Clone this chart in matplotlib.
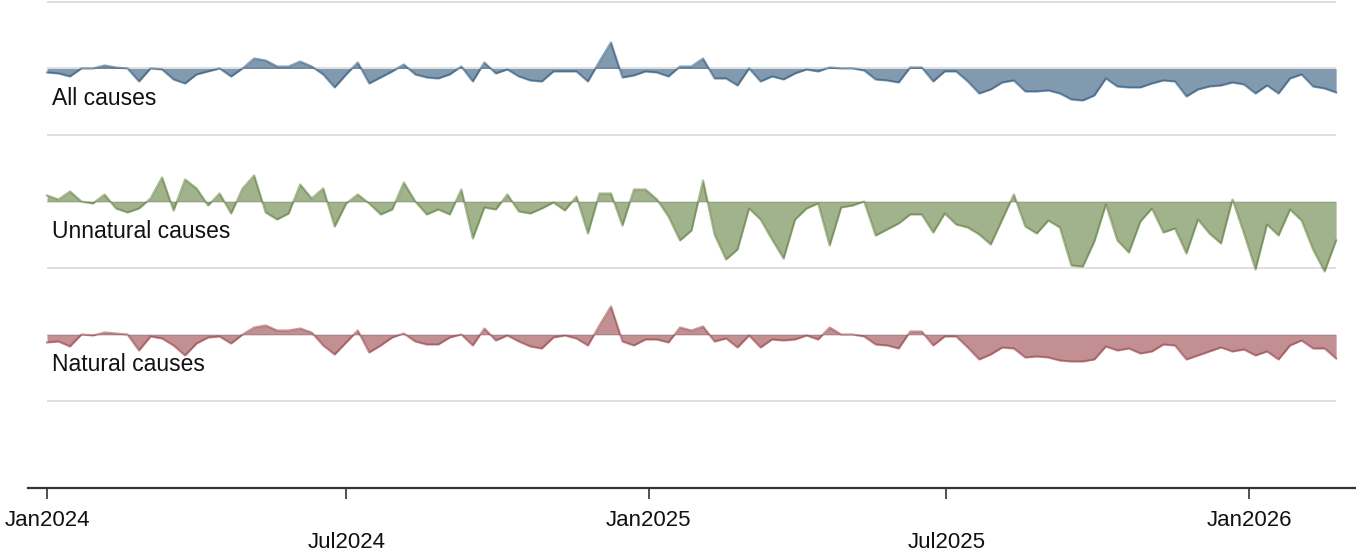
import numpy as np
import pandas as pd
import matplotlib
matplotlib.use('Agg')
import matplotlib.pyplot as plt
import matplotlib.dates as mdates

plt.rcParams['font.family'] = ['Liberation Sans', 'DejaVu Sans']

# weekly deviations from expected (1 band = 133 units)
weeks = pd.date_range('2024-01-01', periods=113, freq='7D')

all_causes = [-4, -5, -8, 0, 0, 3, 1, 0, -13, 0,
              -1, -11, -15, -6, -3, 0, -8, 0, 10, 8,
              2, 2, 7, 2, -6, -19, -6, 6, -15, -9,
              -3, 4, -6, -9, -10, -6, 2, -13, 6, -5,
              -1, -8, -12, -13, -3, -3, -3, -13, 7, 26,
              -9, -7, -3, -4, -8, 2, 2, 10, -10, -10,
              -17, 0, -13, -8, -11, -5, -1, -3, 1, 0,
              0, -2, -11, -12, -14, 1, 1, -13, -3, -3,
              -13, -25, -21, -14, -12, -23, -23, -22, -25, -31,
              -32, -27, -10, -18, -19, -19, -15, -12, -13, -28,
              -21, -18, -17, -14, -16, -25, -17, -25, -10, -6,
              -18, -20, -24]

unnatural = [6, 2, 10, 0, -2, 7, -7, -11, -7, 3,
             24, -9, 22, 13, -4, 8, -12, 13, 26, -11,
             -18, -12, 17, 3, 13, -25, -2, 7, -2, -13,
             -8, 19, 0, -13, -8, -13, 12, -37, -6, -8,
             7, -10, -12, -7, -1, -9, 5, -32, 8, 8,
             -24, 12, 12, 2, -15, -39, -29, 21, -33, -58,
             -48, -7, -18, -38, -57, -18, -7, -2, -44, -6,
             -4, 0, -34, -28, -22, -13, -13, -31, -12, -23,
             -26, -33, -43, -18, 7, -25, -32, -19, -26, -64,
             -65, -40, -3, -39, -51, -20, -7, -31, -27, -52,
             -18, -32, -42, 2, -32, -68, -23, -34, -8, -19,
             -48, -70, -39]

natural = [-8, -7, -12, 0, -1, 2, 1, 0, -16, -2,
           -4, -11, -21, -9, -3, -2, -9, 0, 7, 9,
           4, 4, 6, 2, -11, -20, -8, 4, -18, -11,
           -3, 1, -7, -10, -10, -3, 0, -11, 6, -6,
           -1, -7, -12, -14, -3, -1, -4, -11, 9, 28,
           -7, -11, -5, -5, -8, 7, 4, 8, -7, -4,
           -13, -1, -13, -5, -6, -5, -1, -5, 7, 0,
           0, -2, -10, -11, -14, 3, 3, -11, -2, -2,
           -13, -25, -20, -13, -14, -23, -22, -23, -26, -27,
           -27, -25, -12, -16, -14, -19, -17, -10, -11, -25,
           -21, -17, -13, -17, -15, -21, -17, -25, -11, -6,
           -14, -14, -24]

names = ['All causes', 'Unnatural causes', 'Natural causes']
colors = ['#1a476f', '#55752f', '#90353b']
offsets = [3, 2, 1]
band = 133.0

tick_dates = pd.to_datetime(['2024-01-01', '2024-07-01', '2025-01-01',
                             '2025-07-01', '2026-01-01'])
tick_labels = ['Jan2024', 'Jul2024', 'Jan2025', 'Jul2025', 'Jan2026']

fig = plt.figure(figsize=(13.56, 5.54), dpi=100)
ax = fig.add_axes([28 / 1356, 1 - 488 / 554, 1 - 28 / 1356, 488 / 554])

x = mdates.date2num(weeks)

# light grid lines, only over the data range
for g in np.arange(0.5, 3.6, 0.5):
    ax.hlines(g, x[0], x[-1], color='#dcdcdc', lw=1.3, zorder=1)

for vals, name, col, off in zip([all_causes, unnatural, natural], names, colors, offsets):
    y = off + np.array(vals) / band
    ax.fill_between(x, off, y, color=col, alpha=0.55, lw=0, zorder=2)
    ax.plot(x, y, color=col, alpha=0.5, lw=1.6, zorder=3)
    ax.text(x[0] + 3, off - 0.228, name, fontsize=16.5, va='center', ha='left', color='#111111')

ax.set_xlim(x[0] - 19 / 1.6443, x[0] + 1309 / 1.6443)
ax.set_ylim(-0.154, 3.515)

for s in ['left', 'right', 'top']:
    ax.spines[s].set_visible(False)
ax.spines['bottom'].set_color('#333333')
ax.spines['bottom'].set_linewidth(1.6)
ax.set_yticks([])

ax.set_xticks(mdates.date2num(tick_dates))
ax.set_xticklabels(tick_labels)
ax.tick_params(axis='x', direction='out', length=8, width=1.2, color='#333333',
               labelsize=16, labelcolor='#111111')
for i, t in enumerate(ax.xaxis.get_major_ticks()):
    t.set_pad(8 if i % 2 == 0 else 24)

fig.savefig('out.png', dpi=100, facecolor='white')
